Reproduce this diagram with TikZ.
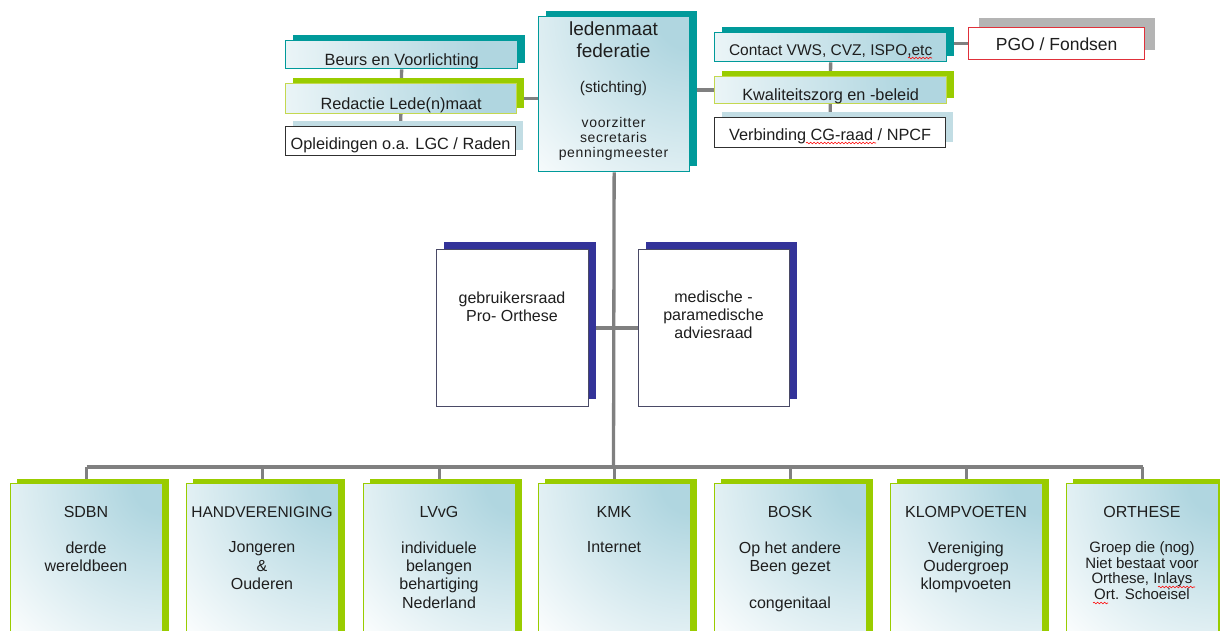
\documentclass[tikz,border=0pt]{standalone}
\usepackage{fontspec}
\setmainfont{Liberation Sans}
\newfontfamily\spacedfont[LetterSpace=5]{Liberation Sans}
\usetikzlibrary{shadows,decorations.pathmorphing}
\definecolor{tealc}{HTML}{009A9A}
\definecolor{greenc}{HTML}{99CC00}
\definecolor{lgreen}{HTML}{C4D850}
\definecolor{lblue}{HTML}{C2DDE4}
\definecolor{dblue}{HTML}{333399}
\definecolor{linec}{HTML}{808080}
\definecolor{gradc}{HTML}{B0D6E0}
\definecolor{redc}{HTML}{E0303A}
\definecolor{grayc}{HTML}{B4B4B4}
\definecolor{darkc}{HTML}{303030}
\definecolor{bordc}{HTML}{4A4A66}
\definecolor{txt}{HTML}{1E1E1E}
\pgfdeclareradialshading{cornerfade}{\pgfpointorigin}{color(0bp)=(gradc); color(4bp)=(gradc); color(30bp)=(white); color(50bp)=(white)}
\newcommand\fzA{\fontsize{16.3}{19}\selectfont}
\newcommand\fzB{\fontsize{16}{18.3}\selectfont}
\pgfdeclarelayer{background}
\pgfsetlayers{background,main}
\tikzset{
  box/.style={rectangle, inner sep=0pt, anchor=north west, text=txt, line width=1.3pt},
  back/.style={general shadow={shadow xshift=7pt, shadow yshift=5.5pt, fill=#1}},
  grad/.style={fill=white, path picture={\shade[shading=cornerfade]
      ([shift={(-#1,-#1)}]path picture bounding box.north east) rectangle
      ([shift={(#1,#1)}]path picture bounding box.north east);}},
  grad/.default=250pt,
  conn/.style={draw=linec, line width=3.3pt},
  lbl/.style={inner sep=0pt, text=txt, align=center},
  spell/.style={draw=red, line width=0.6pt, decorate, decoration={snake, amplitude=0.8pt, segment length=3.5pt}},
  lower/.style={box, draw=greenc, line width=1pt, grad=185pt, minimum width=152pt, minimum height=180pt,
     general shadow={shadow xshift=6.5pt, shadow yshift=5pt, fill=greenc}},
  mid/.style={box, draw=bordc, line width=0.8pt, fill=white, minimum width=152pt, minimum height=157pt,
     general shadow={shadow xshift=7.5pt, shadow yshift=7pt, fill=dblue}}
}
\begin{document}
\begin{tikzpicture}[x=1pt,y=-1pt]
\useasboundingbox (0,0) rectangle (1220,631);

% ---- top left cluster
\node[box, draw=tealc, grad, back=tealc, minimum width=232pt, text height=25pt, text depth=3pt, font=\fzA] (beurs) at (285,40) {Beurs en Voorlichting};
\node[box, draw=lgreen, grad, back=greenc, minimum width=231pt, text height=26pt, text depth=4pt, font=\fzA] (redactie) at (285,83) {Redactie Lede(n)maat};
\node[box, draw=darkc, fill=white, back=lblue, minimum width=230pt, text height=23pt, text depth=6pt, font=\fzA] (opleid) at (285,126) {Opleidingen o.a. LGC / Raden};

% ---- central box
\node[box, draw=tealc, grad=200pt, back=tealc, minimum width=151pt, minimum height=155pt] (fed) at (538,16) {};
\node[lbl, anchor=north, font=\fontsize{19}{22}\selectfont] (fedA) at (613.5,21.4) {ledenmaat\\federatie};
\node[lbl, anchor=base, font=\fontsize{15.5}{18}\selectfont] (fedB) at (613.5,93) {(stichting)};
\node[lbl, anchor=north, font=\spacedfont\fontsize{14}{15}\selectfont] (fedC) at (613.5,117) {voorzitter\\secretaris\\penningmeester};

% ---- top right cluster
\node[box, draw=tealc, grad, back=tealc, minimum width=232pt, text height=23pt, text depth=6pt, font=\fontsize{15.5}{18}\selectfont] (contact) at (714,32) {Contact VWS, CVZ, ISPO,etc};
\node[box, draw=lgreen, grad, back=greenc, minimum width=232pt, text height=24pt, text depth=3pt, font=\fzA] (kwal) at (714,76) {Kwaliteitszorg en -beleid};
\node[box, draw=darkc, fill=white, back=lblue, minimum width=231pt, text height=23pt, text depth=7pt, font=\fzA] (verb) at (714,117) {Verbinding CG-raad / NPCF};
\node[box, draw=redc, fill=white, minimum width=176pt, text height=23pt, text depth=9pt, font=\fontsize{17.5}{20}\selectfont,
      general shadow={shadow xshift=10pt, shadow yshift=10pt, fill=grayc}] (pgo) at (968,27) {PGO / Fondsen};

% ---- middle boxes
\node[mid] (gebr) at (436,249) {};
\node[lbl, anchor=north, font=\fzB] (gebrT) at (512,291.5) {gebruikersraad\\Pro- Orthese};
\node[mid, minimum width=151pt] (med) at (638,249) {};
\node[lbl, anchor=north, font=\fzB] (medT) at (713.5,290.5) {medische -\\paramedische\\adviesraad};

% ---- bottom row
\node[lower] (sdbn) at (10,483) {};
\node[lower] (hand) at (186,483) {};
\node[lower] (lvvg) at (363,483) {};
\node[lower] (kmk) at (538,483) {};
\node[lower] (bosk) at (714,483) {};
\node[lower] (klomp) at (890,483) {};
\node[lower] (orth) at (1066,483) {};

\node[lbl, anchor=base, font=\fzB] (sdbnT) at (86,517) {SDBN};
\node[lbl, anchor=north, font=\fzB] (sdbnB) at (86,541.5) {derde\\wereldbeen};
\node[lbl, anchor=base, font=\fontsize{15.5}{18}\selectfont] (handT) at (262,517) {HANDVERENIGING};
\node[lbl, anchor=north, font=\fzB] (handB) at (262,541.5) {Jongeren\\\&\\Ouderen};
\node[lbl, anchor=base, font=\fzB] (lvvgT) at (439,517) {LVvG};
\node[lbl, anchor=north, font=\fzB] (lvvgB) at (439,541.5) {individuele\\belangen\\behartiging\\Nederland};
\node[lbl, anchor=base, font=\fzB] (kmkT) at (614,517) {KMK};
\node[lbl, anchor=north, font=\fzB] (kmkB) at (614,541.5) {Internet};
\node[lbl, anchor=base, font=\fzB] (boskT) at (790,517) {BOSK};
\node[lbl, anchor=north, font=\fzB] (boskB) at (790,541.5) {Op het andere\\Been gezet\\[18.3pt]congenitaal};
\node[lbl, anchor=base, font=\fzB] (klompT) at (966,517) {KLOMPVOETEN};
\node[lbl, anchor=north, font=\fzB] (klompB) at (966,541.5) {Vereniging\\Oudergroep\\klompvoeten};
\node[lbl, anchor=base, font=\fzB] (orthT) at (1142,517) {ORTHESE};
\node[lbl, anchor=north, font=\fontsize{15}{15.8}\selectfont] (orthB) at (1142,541.3) {Groep die (nog)\\Niet bestaat voor\\Orthese, Inlays\\Ort. Schoeisel};

\coordinate (bar) at (613.5,467);

% ---- connectors (behind boxes)
\begin{pgfonlayer}{background}
\draw[conn] (beurs.south) -- (opleid.north);
\draw[conn] (redactie.east) -- (redactie.east -| fed.west);
\draw[conn] (contact.south) -- (verb.north);
\draw[conn] (kwal.west -| fed.east) -- (kwal.west);
\draw[conn] (pgo.west -| contact.east) -- (pgo.west);
\draw[conn] (fed.south) -- (bar);
\draw[conn] (gebr.east) -- (med.west);
\draw[conn] (sdbn.north |- bar) -- (orth.north |- bar);
\foreach \n in {sdbn,hand,lvvg,kmk,bosk,klomp,orth} \draw[conn] (\n.north |- bar) -- (\n.north);
\end{pgfonlayer}

% ---- spell-check marks
\draw[spell] (908,58) -- (932,58);
\draw[spell] (806,143) -- (876,143);
\draw[spell] (1158,587) -- (1195,587);
\draw[spell] (1093,603) -- (1108,603);
\end{tikzpicture}
\end{document}
